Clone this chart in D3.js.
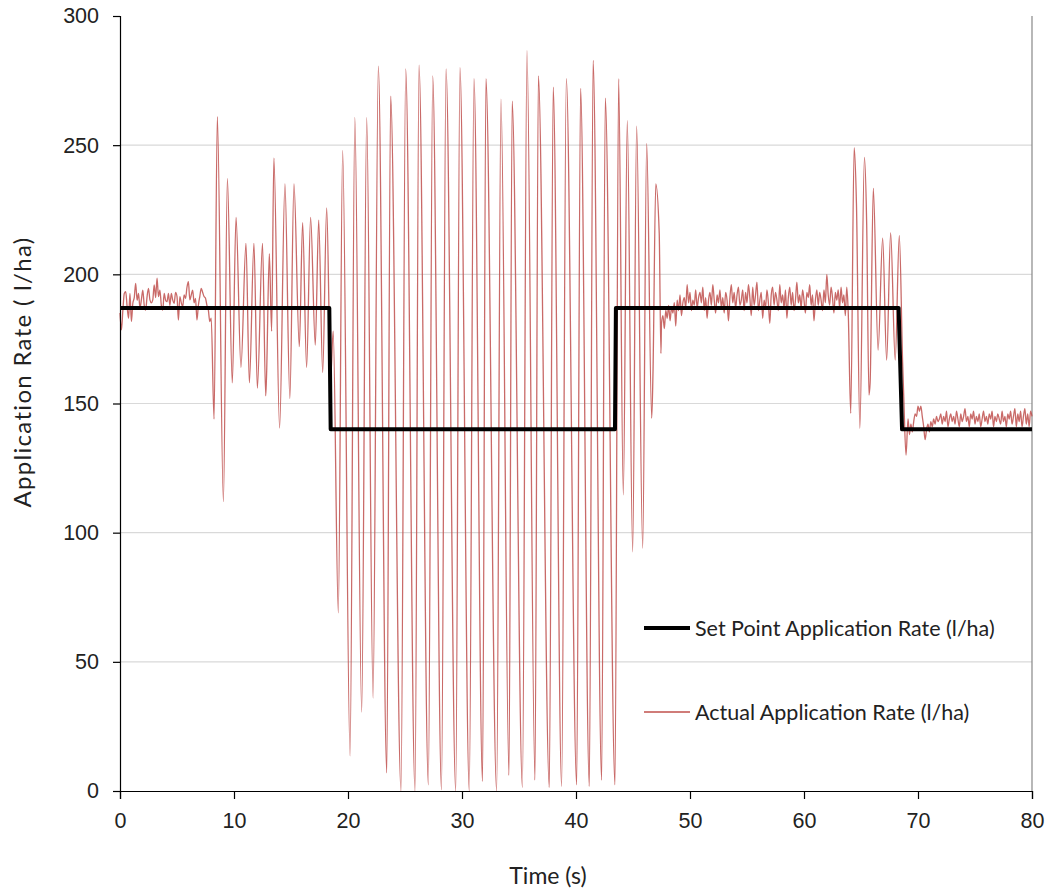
<!DOCTYPE html>
<html>
<head>
<meta charset="utf-8">
<style>
    body { margin: 0; background: #fff; }
    svg { font-family: Lato, 'Open Sans', sans-serif; }
    .tick text { fill: #222; }
</style>
</head>
<body>
<svg width="1047" height="890"></svg>

<script src="https://d3js.org/d3.v7.min.js"></script>
<script>
    // ---- data ----
    let xTicks = [0, 10, 20, 30, 40, 50, 60, 70, 80];
    let yTicks = [0, 50, 100, 150, 200, 250, 300];

    // set point (t, l/ha)
    let setPoint = [[0, 187], [18.36, 187], [18.48, 140], [43.42, 140], [43.5, 187], [68.3, 187], [68.6, 140], [80, 140]];

    // steady stretches logged every 0.125 s
    let noiseStep = 0.125;
    let noise1Start = 0;
    let noise1 = [185, 178.5, 186, 192.6, 193.3, 187.5, 183, 192.6, 181.7, 188.8, 191, 196.5, 190, 192.6, 187, 190.1,
        193.9, 188, 186.2, 191.4, 194.6, 190.1, 189, 190.1, 195.9, 191, 198.5, 191.4, 193.9, 188, 186.2, 192.6,
        190, 189.4, 192.6, 188, 192.6, 190, 188.8, 193, 191.4, 182.3, 191.4, 189, 187.5, 192, 190.7, 195,
        197.2, 190.1, 192, 193.9, 189, 190.7, 182.3, 188, 191.4, 194.6, 193, 191.4, 190.7, 188, 186.2, 181.7, 183];

    let noise2Start = 47.5;
    let noise2 = [181, 184, 179, 186, 183, 188, 182, 187,
        185, 189, 180, 190, 186, 192, 184, 189,
        191, 187, 196, 189, 193, 186, 190, 188,
        194, 187, 191, 193, 189, 195, 186, 191,
        183, 190, 193, 188, 196, 190, 185, 192,
        189, 194, 187, 191, 185, 193, 190, 182,
        191, 196, 189, 193, 187, 192, 195, 188,
        190, 194, 186, 193, 189, 196, 191, 184,
        195, 188, 192, 197, 186, 190, 193, 183,
        190, 187, 194, 189, 181, 192, 195, 188,
        193, 190, 186, 196, 189, 192, 187, 194,
        183, 191, 195, 188, 193, 186, 190, 197,
        189, 192, 187, 194, 190, 185, 193, 191,
        196, 188, 192, 182, 190, 194, 188, 193,
        190, 186, 194, 189, 200, 192, 188, 195,
        191, 185, 193, 190, 194, 187, 195, 189,
        192, 184, 195, 186];

    let noise3Start = 69.125;
    let noise3 = [144, 138, 142, 139, 143, 146, 145, 149,
        147, 149, 145, 141, 136, 140, 142, 139,
        143, 141, 144, 142, 145, 143, 144, 146,
        142, 145, 143, 147, 141, 144, 146, 143,
        145, 142, 147, 144, 141, 146, 143, 145,
        148, 143, 145, 141, 146, 144, 147, 142,
        145, 143, 146, 141, 144, 147, 143, 145,
        142, 146, 144, 147, 141, 145, 143, 146,
        144, 142, 147, 143, 145, 141, 146, 144,
        147, 142, 145, 148, 141, 146, 143, 147,
        141, 145, 148, 142, 146, 141, 147, 145];

    // oscillating stretches: peaks and troughs (t, l/ha)
    let swing1 = [[8.25, 144], [8.54, 261], [9.07, 112], [9.42, 237], [9.85, 158], [10.18, 222], [10.61, 164],
        [11.05, 212], [11.35, 158], [11.75, 212], [12.05, 156], [12.5, 212], [12.78, 153], [12.85, 160],
        [13.1, 208], [13.3, 178], [13.5, 245], [14.0, 140.5], [14.47, 235], [14.9, 152], [15.26, 235],
        [15.73, 172], [16.02, 220], [16.37, 164], [16.72, 222], [17.13, 172.6], [17.43, 221], [17.78, 162],
        [18.13, 225.7], [18.48, 160], [18.7, 178], [19.15, 69], [19.53, 248], [20.18, 13.6], [20.6, 260.7],
        [21.2, 30.5], [21.64, 260.7], [22.2, 36], [22.66, 280.6], [23.4, 7], [23.74, 269], [24.65, 0],
        [25.06, 279.5], [25.88, 0], [26.23, 281], [27.05, 2.4], [27.43, 276.8], [28.2, 0.5], [28.6, 279.5],
        [29.45, 0], [29.82, 280], [30.64, 0], [31.05, 275.7], [31.8, 3.7], [32.1, 275.7], [33.04, 0],
        [33.42, 267.8], [34.12, 6], [34.4, 267], [35.3, 1.4], [35.7, 286.6], [36.4, 4.2], [36.7, 276.8],
        [37.66, 1.4], [38.0, 272.5], [38.74, 1.8], [39.15, 275.7], [40.06, 2.4], [40.4, 272], [41.17, 1.8],
        [41.5, 282.8], [42.25, 4.2], [42.57, 268.2], [43.42, 2.4], [43.74, 275.7], [44.15, 114.6],
        [44.5, 259.5], [44.97, 92.6], [45.32, 257.4], [45.85, 94], [46.2, 250.7], [46.64, 144.3],
        [46.75, 161], [47.0, 235], [47.3, 216], [47.45, 169.4]];

    let swing2 = [[64.1, 146.2], [64.4, 249], [64.6, 227.5], [64.9, 140.4], [65.3, 245.3], [65.5, 219],
        [65.7, 153.3], [65.8, 158], [66.08, 233.3], [66.5, 170.7], [66.9, 214], [67.25, 166.8], [67.6, 216],
        [68.0, 166.8], [68.36, 215], [68.65, 166], [68.75, 152.6], [68.95, 130]];

    let seriesNames = ["Set Point Application Rate (l/ha)", "Actual Application Rate (l/ha)"];

    // ---- build the actual series ----
    let stepped = (start, vals) => vals.map((v, i) => [start + i * noiseStep, v]);
    let actual = [].concat(stepped(noise1Start, noise1), swing1, stepped(noise2Start, noise2),
        swing2, stepped(noise3Start, noise3));

    // ---- chart ----
    let width = 1047, height = 890;
    let margin = {top: 16, right: 15, bottom: 99, left: 120};
    let svg = d3.select("svg");

    let x = d3.scaleLinear().domain([0, 80]).range([margin.left, width - margin.right]);
    let y = d3.scaleLinear().domain([0, 300]).range([height - margin.bottom, margin.top]);

    // gridlines
    svg.append("g")
        .selectAll("line")
        .data(yTicks.filter(d => d > 0 && d < 300))
        .join("line")
        .attr("x1", x(0)).attr("x2", x(80))
        .attr("y1", d => y(d)).attr("y2", d => y(d))
        .attr("stroke", "#d9d9d9")
        .attr("stroke-width", 1.2);

    // right border
    svg.append("line")
        .attr("x1", x(80)).attr("x2", x(80))
        .attr("y1", y(300)).attr("y2", y(0))
        .attr("stroke", "#888")
        .attr("stroke-width", 1.2);

    let line = d3.line().x(d => x(d[0])).y(d => y(d[1]));

    svg.append("path")
        .attr("d", line.curve(d3.curveMonotoneX)(actual))
        .attr("fill", "none")
        .attr("stroke", "#c0504d")
        .attr("stroke-opacity", 0.85)
        .attr("stroke-width", 1.3);

    svg.append("path")
        .attr("d", d3.line().x(d => x(d[0])).y(d => y(d[1]))(setPoint))
        .attr("fill", "none")
        .attr("stroke", "#000")
        .attr("stroke-width", 4)
        .attr("stroke-linejoin", "round");

    // axes
    let yAxis = svg.append("g")
        .attr("transform", `translate(${margin.left},0)`)
        .call(d3.axisLeft(y).tickValues(yTicks).tickSize(7).tickPadding(14));
    let xAxis = svg.append("g")
        .attr("transform", `translate(0,${height - margin.bottom})`)
        .call(d3.axisBottom(x).tickValues(xTicks).tickSize(8).tickPadding(14));

    [yAxis, xAxis].forEach(a => {
        a.select(".domain").attr("stroke", "#000").attr("stroke-width", 1.2);
        a.selectAll(".tick line").attr("stroke", "#000").attr("stroke-width", 1.2);
        a.selectAll(".tick text").attr("font-size", 21.5);
    });

    // axis titles
    svg.append("text")
        .attr("transform", `translate(31,372) rotate(-90)`)
        .attr("text-anchor", "middle")
        .attr("font-size", 24)
        .attr("letter-spacing", 1.3)
        .attr("fill", "#222")
        .text("Application Rate ( l/ha)");

    svg.append("text")
        .attr("x", 548)
        .attr("y", 884)
        .attr("text-anchor", "middle")
        .attr("font-size", 23)
        .attr("fill", "#222")
        .text("Time (s)");

    // legend
    let legend = svg.append("g").attr("transform", "translate(644,628)");
    let legendItems = legend.selectAll("g")
        .data(seriesNames)
        .join("g")
        .attr("transform", (d, i) => `translate(0,${i * 84})`);
    legendItems.append("line")
        .attr("x1", 0).attr("x2", 46)
        .attr("stroke", (d, i) => i === 0 ? "#000" : "#c0504d")
        .attr("stroke-width", (d, i) => i === 0 ? 4 : 1.3);
    legendItems.append("text")
        .attr("x", 51)
        .attr("dy", "0.35em")
        .attr("font-size", 21.5)
        .attr("fill", "#222")
        .text(d => d);
</script>
</body>
</html>
